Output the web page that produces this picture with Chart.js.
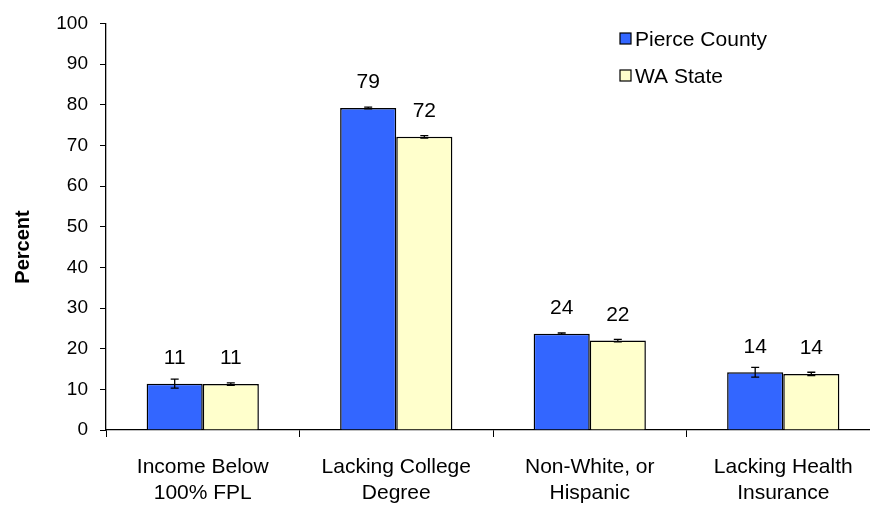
<!DOCTYPE html>
<html>
<head>
<meta charset="utf-8">
<script src="https://cdn.jsdelivr.net/npm/chart.js@4"></script>
<style>
  html, body { margin: 0; padding: 0; background: #fff; overflow: hidden; }
  #wrap { width: 880px; height: 508px; }
</style>
</head>
<body>
<div id="wrap"><canvas id="chart" width="880" height="508"></canvas></div>
<script>
const categories = [
  ["Income Below", "100% FPL"],
  ["Lacking College", "Degree"],
  ["Non-White, or", "Hispanic"],
  ["Lacking Health", "Insurance"],
];
const seriesNames = ["Pierce County", "WA State"];
const pierce = [11.4, 79.2, 23.7, 14.2];
const waState = [11.3, 72.1, 22.0, 13.8];
const pierceErr = [1.1, 0.2, 0.2, 1.2];
const waErr = [0.3, 0.3, 0.3, 0.4];
const yTicks = [0, 10, 20, 30, 40, 50, 60, 70, 80, 90, 100];
const yTitle = "Percent";

const FONT = "'Liberation Sans', Arial, sans-serif";
Chart.defaults.font.family = FONT;
Chart.defaults.color = "#000";

// error bars + value labels
const errorBars = {
  id: "errorBars",
  afterDatasetsDraw(chart) {
    const ctx = chart.ctx;
    const y = chart.scales.y;
    chart.data.datasets.forEach((ds, i) => {
      const meta = chart.getDatasetMeta(i);
      meta.data.forEach((bar, j) => {
        const v = ds.data[j];
        const e = ds.errors[j];
        const top = y.getPixelForValue(v + e);
        const bot = y.getPixelForValue(v - e);
        ctx.save();
        ctx.strokeStyle = "#000";
        ctx.lineWidth = 1.3;
        ctx.beginPath();
        ctx.moveTo(bar.x, top); ctx.lineTo(bar.x, bot);
        ctx.moveTo(bar.x - 4, top); ctx.lineTo(bar.x + 4, top);
        ctx.moveTo(bar.x - 4, bot); ctx.lineTo(bar.x + 4, bot);
        ctx.stroke();
        // value label
        ctx.fillStyle = "#000";
        ctx.font = "21px " + FONT;
        ctx.textAlign = "center";
        ctx.textBaseline = "bottom";
        ctx.fillText(Math.round(v), bar.x, y.getPixelForValue(v) - 15);
        ctx.restore();
      });
    });
  },
};

// legend inside plot area (top right) + axis title
const innerLegend = {
  id: "innerLegend",
  afterDraw(chart) {
    const ctx = chart.ctx;
    ctx.save();
    chart.data.datasets.forEach((ds, i) => {
      const cy = 39 + i * 37;
      ctx.fillStyle = ds.backgroundColor;
      ctx.strokeStyle = "#000";
      ctx.lineWidth = 1.2;
      ctx.fillRect(620, cy - 6, 11, 11);
      ctx.strokeRect(620, cy - 6, 11, 11);
      ctx.fillStyle = "#000";
      ctx.font = "21px " + FONT;
      ctx.textAlign = "left";
      ctx.textBaseline = "middle";
      ctx.fillText(ds.label, 635, cy + 1);
    });
    // y title
    ctx.translate(23, 247);
    ctx.rotate(-Math.PI / 2);
    ctx.font = "bold 20px " + FONT;
    ctx.textAlign = "center";
    ctx.textBaseline = "middle";
    ctx.fillText(yTitle, 0, 0);
    ctx.restore();
  },
};

new Chart(document.getElementById("chart"), {
  type: "bar",
  data: {
    labels: categories,
    datasets: [
      {
        label: seriesNames[0],
        data: pierce,
        errors: pierceErr,
        backgroundColor: "#3366FF",
        borderColor: "#000",
        borderWidth: 1.5,
      },
      {
        label: seriesNames[1],
        data: waState,
        errors: waErr,
        backgroundColor: "#FFFFCC",
        borderColor: "#000",
        borderWidth: 1.5,
      },
    ],
  },
  options: {
    responsive: false,
    animation: false,
    devicePixelRatio: 1,
    layout: { padding: { top: 19, left: 0, right: 0, bottom: 0 } },
    datasets: { bar: { categoryPercentage: 0.58, barPercentage: 1.0 } },
    plugins: {
      legend: { display: false },
      tooltip: { enabled: false },
    },
    scales: {
      x: {
        grid: {
          offset: true,
          drawOnChartArea: false,
          drawTicks: true,
          tickLength: 7,
          color: "#000",
        },
        border: { display: true, color: "#000", width: 1.3 },
        ticks: { font: { size: 21, lineHeight: 1.25 }, padding: 17, color: "#000", maxRotation: 0 },
        afterFit(scale) { scale.height = 78; },
      },
      y: {
        min: 0,
        max: 100,
        afterBuildTicks(scale) { scale.ticks = yTicks.map((v) => ({ value: v })); },
        grid: {
          drawOnChartArea: false,
          drawTicks: true,
          tickLength: 6,
          color: "#000",
        },
        border: { display: true, color: "#000", width: 1.3 },
        ticks: { font: { size: 19 }, padding: 12, color: "#000" },
        afterFit(scale) { scale.width = 106; },
      },
    },
  },
  plugins: [errorBars, innerLegend],
});
</script>
</body>
</html>
